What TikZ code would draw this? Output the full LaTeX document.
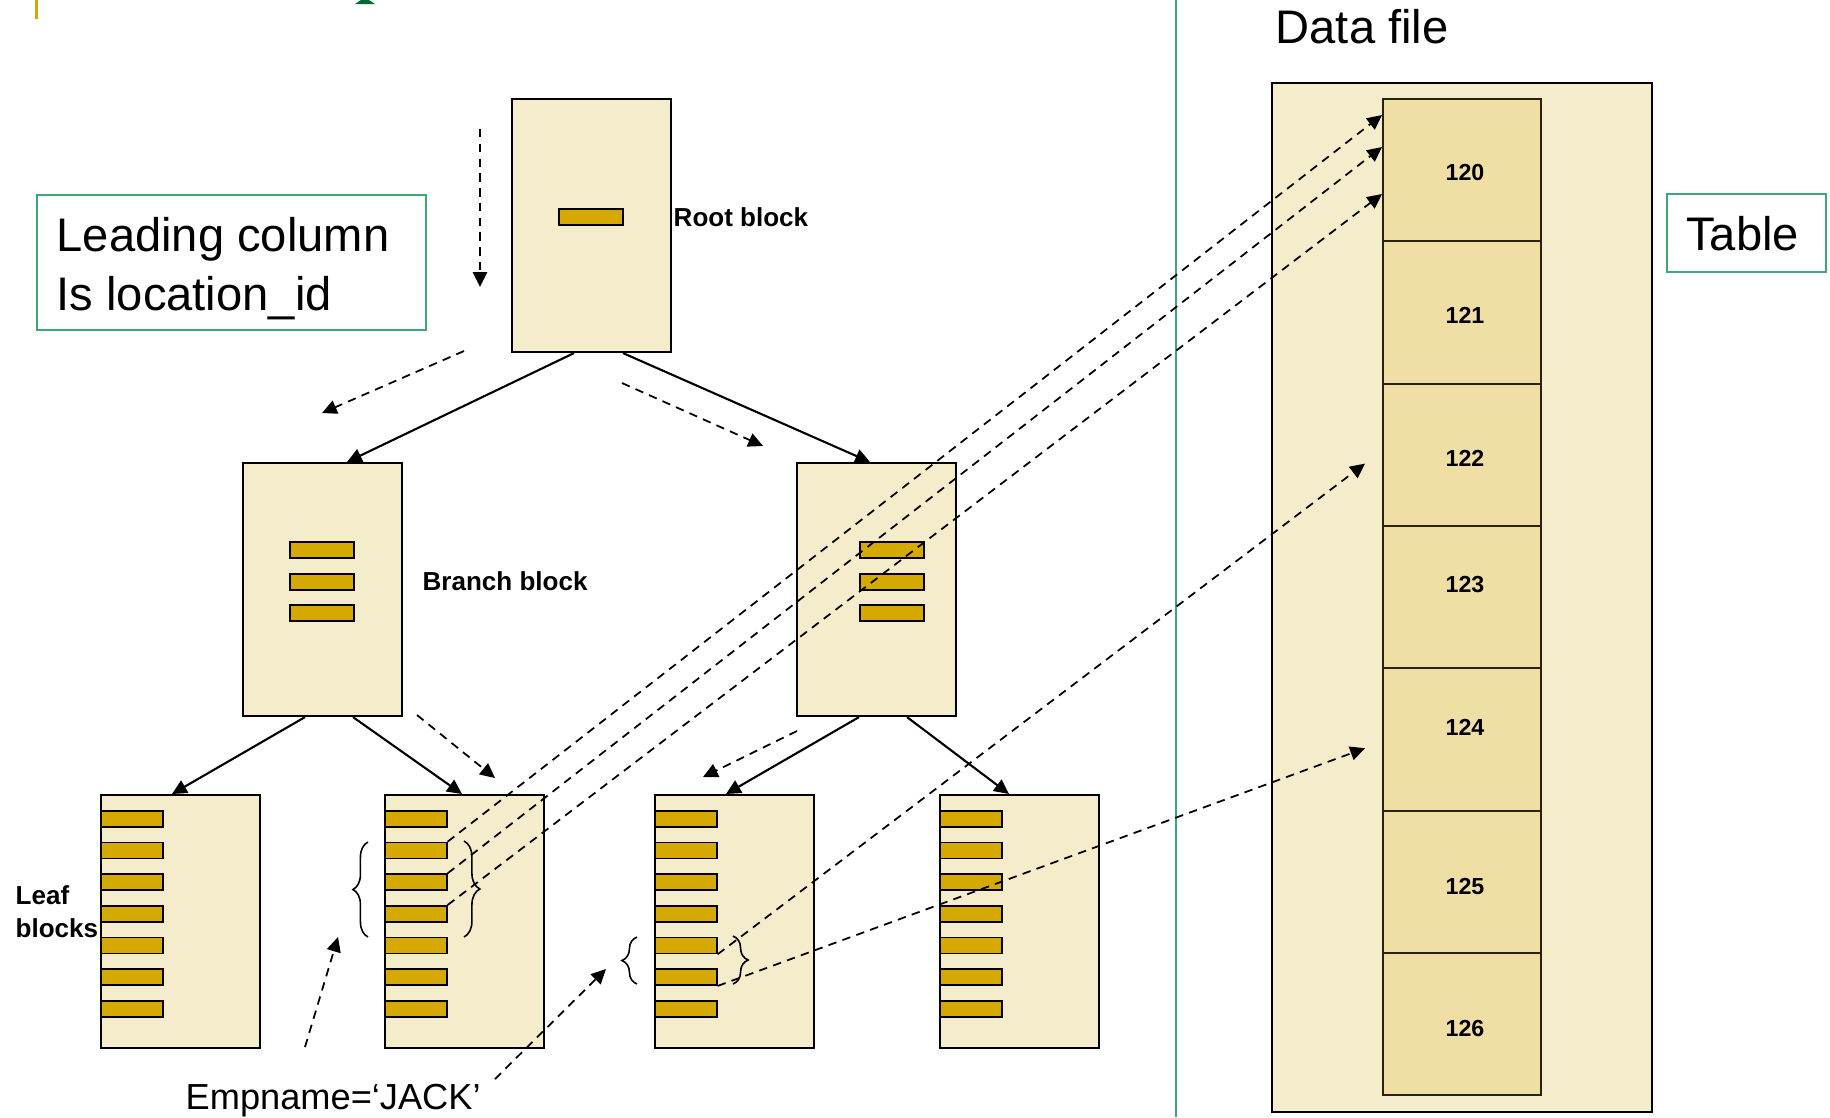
\documentclass[tikz,border=0pt]{standalone}
\usepackage{fontspec}
\setmainfont{Liberation Sans}
\usetikzlibrary{arrows.meta,calc,decorations.pathreplacing}

\definecolor{cream}{RGB}{245,236,204}
\definecolor{keygold}{RGB}{214,169,0}
\definecolor{celltan}{RGB}{240,223,165}
\definecolor{cellline}{RGB}{40,35,15}
\definecolor{frame}{RGB}{60,168,120}
\definecolor{deepgreen}{RGB}{0,102,51}

\tikzset{
  blk/.style={draw=black, fill=cream, line width=0.55pt, inner sep=0,
    minimum width=1.585cm, minimum height=2.53cm, anchor=north west},
  keybar/.style={draw=black, fill=keygold, line width=0.45pt, inner sep=0,
    minimum width=0.64cm, minimum height=0.16cm, anchor=north west},
  leafbar/.style={keybar, minimum width=0.62cm},
  cellbox/.style={draw=cellline, fill=celltan, line width=0.6pt, inner sep=0,
    minimum width=1.58cm, minimum height=1.423cm, anchor=north west},
  link/.style={line width=0.6pt, -{Triangle[length=4.2pt,width=4pt]}},
  guide/.style={line width=0.5pt, dash pattern=on 2.4pt off 1.8pt,
    -{Triangle[length=4.2pt,width=4pt]}},
  greenbox/.style={draw=frame, line width=0.6pt},
  blabel/.style={font=\bfseries\fontsize{7.4}{8.8}\selectfont, inner sep=0},
  numlabel/.style={font=\bfseries\fontsize{6.6}{7.8}\selectfont, inner sep=0},
  bigtext/.style={font=\fontsize{13.4}{16.5}\selectfont},
  curly/.style={decorate, decoration={brace, amplitude=#1}, line width=0.45pt},
  curly/.default=4.3pt,
}

\begin{document}
\begin{tikzpicture}[x=0.01cm, y=-0.01cm]
\useasboundingbox (0,0) rectangle (1830,1117);

% marks on the top edge
\draw[keygold, line width=1pt] (36.7,-2) -- (36.7,19);
\fill[deepgreen] (355,4) -- (375,4) -- (369,0) -- (368,-3) -- (362,-3) -- (361,0) -- cycle;

% separator between index and table
\coordinate (sepTop) at (1176,0);
\coordinate (sepBot) at (1176,1117);
\draw[frame, line width=0.7pt] (sepTop) -- (sepBot);

% ---------- data file ----------
\node[font=\fontsize{13.4}{16.5}\selectfont, inner sep=0, anchor=base west] (dflabel) at (1275,43) {Data file};
\node[draw=black, fill=cream, line width=0.6pt, inner sep=0, minimum width=3.8cm,
      minimum height=10.28cm, anchor=north west] (dfile) at (1271,82) {};
\foreach \n [count=\i from 0] in {120,...,126}
  \node[cellbox] (c\n) at (1382,{98+142.3*\i}) {};
\node[numlabel] (n120) at (1465,172) {120};
\node[numlabel] (n121) at (1465,315) {121};
\node[numlabel] (n122) at (1465,458) {122};
\node[numlabel] (n123) at (1465,585) {123};
\node[numlabel] (n124) at (1465,727) {124};
\node[numlabel] (n125) at (1465,886) {125};
\node[numlabel] (n126) at (1465,1028) {126};

\node[greenbox, inner sep=0, minimum width=1.59cm, minimum height=0.78cm,
      anchor=north west] (tbl) at (1666,193) {};
\node[bigtext, inner sep=0] (tbltxt) at ($(tbl.center)+(-4,1)$) {Table};

% ---------- index ----------
\node[greenbox, inner sep=0, minimum width=3.89cm, minimum height=1.35cm,
      anchor=north west] (lead) at (36,194) {};
\node[bigtext, align=left, inner sep=0, anchor=west] (leadtxt) at ($(lead.west)+(20,6)$)
      {Leading column\\Is location\_id};

\node[blk] (root) at (511,98) {};
\node[keybar] (rk) at (558,208) {};
\node[blabel, anchor=base west] (rootlbl) at (673,226) {Root block};

\node[blk] (brL) at (242,462) {};
\node[blk] (brR) at (796,462) {};
\foreach \y [count=\i] in {541,573,604} {
  \node[keybar] (bLk\i) at (289,\y) {};
  \node[keybar] (bRk\i) at (859,\y) {};
}
\node[blabel, anchor=base west] (brlbl) at (422,590) {Branch block};

\foreach \lx/\nm in {100/lfA,384/lfB,654/lfC,939/lfD} {
  \node[blk] (\nm) at (\lx,794) {};
  \foreach \i in {0,...,6}
    \node[leafbar] (\nm k\i) at (\lx,{810+31.67*\i}) {};
}
\node[blabel, font=\bfseries\fontsize{7.4}{9.2}\selectfont, align=left, anchor=base west]
      (leaflbl) at (15,937) {Leaf\\blocks};

% tree links
\draw[link] ($(root.south west)+(63,0)$) -- ($(brL.north west)+(105,0)$);
\draw[link] ($(root.south west)+(112,0)$) -- ($(brR.north west)+(74,0)$);
\draw[link] ($(brL.south west)+(63,0)$) -- ($(lfA.north west)+(72,0)$);
\draw[link] ($(brL.south west)+(111,0)$) -- ($(lfB.north west)+(78,0)$);
\draw[link] ($(brR.south west)+(63,0)$) -- ($(lfC.north west)+(72,0)$);
\draw[link] ($(brR.south west)+(111,0)$) -- ($(lfD.north west)+(70,0)$);

% search path hints
\coordinate (g1s) at (480,129); \coordinate (g1e) at (480,287);
\coordinate (g2s) at (464,351); \coordinate (g2e) at (322,413);
\coordinate (g3s) at (622,383); \coordinate (g3e) at (763,446);
\coordinate (g4s) at (417,715); \coordinate (g4e) at (495,778);
\coordinate (g5s) at (797,731); \coordinate (g5e) at (703,777);
\draw[guide] (g1s) -- (g1e);
\draw[guide] (g2s) -- (g2e);
\draw[guide] (g3s) -- (g3e);
\draw[guide] (g4s) -- (g4e);
\draw[guide] (g5s) -- (g5e);

% rowid pointers into the table
\coordinate (t122) at ($(c122.north west)+(-17,81)$);
\coordinate (t124) at ($(c124.north west)+(-17,81)$);
\draw[guide] (lfBk1.north east) -- ($(c120.north west)+(0,17)$);
\draw[guide] (lfBk2.north east) -- ($(c120.north west)+(0,49)$);
\draw[guide] (lfBk3.north east) -- ($(c120.north west)+(0,96)$);
\draw[guide] (lfCk4.south east) -- (t122);
\draw[guide] (lfCk5.south east) -- (t124);

% braces around the matching entries
\draw[curly=4.3pt] (368,937) -- (368,842);
\draw[curly=4.5pt] (464,841) -- (464,937);
\draw[curly=4.3pt] (637,984) -- (637,937);
\draw[curly=4.3pt] (733,936) -- (733,984);

% predicate
\node[font=\fontsize{10.3}{12}\selectfont, inner sep=0, anchor=base west] (pred) at (185,1109) {Empname=‘JACK’};
\coordinate (e1s) at (305,1047); \coordinate (e1e) at (338,937);
\coordinate (e2s) at (495,1079); \coordinate (e2e) at (606,969);
\draw[guide] (e1s) -- (e1e);
\draw[guide] (e2s) -- (e2e);
\end{tikzpicture}
\end{document}
